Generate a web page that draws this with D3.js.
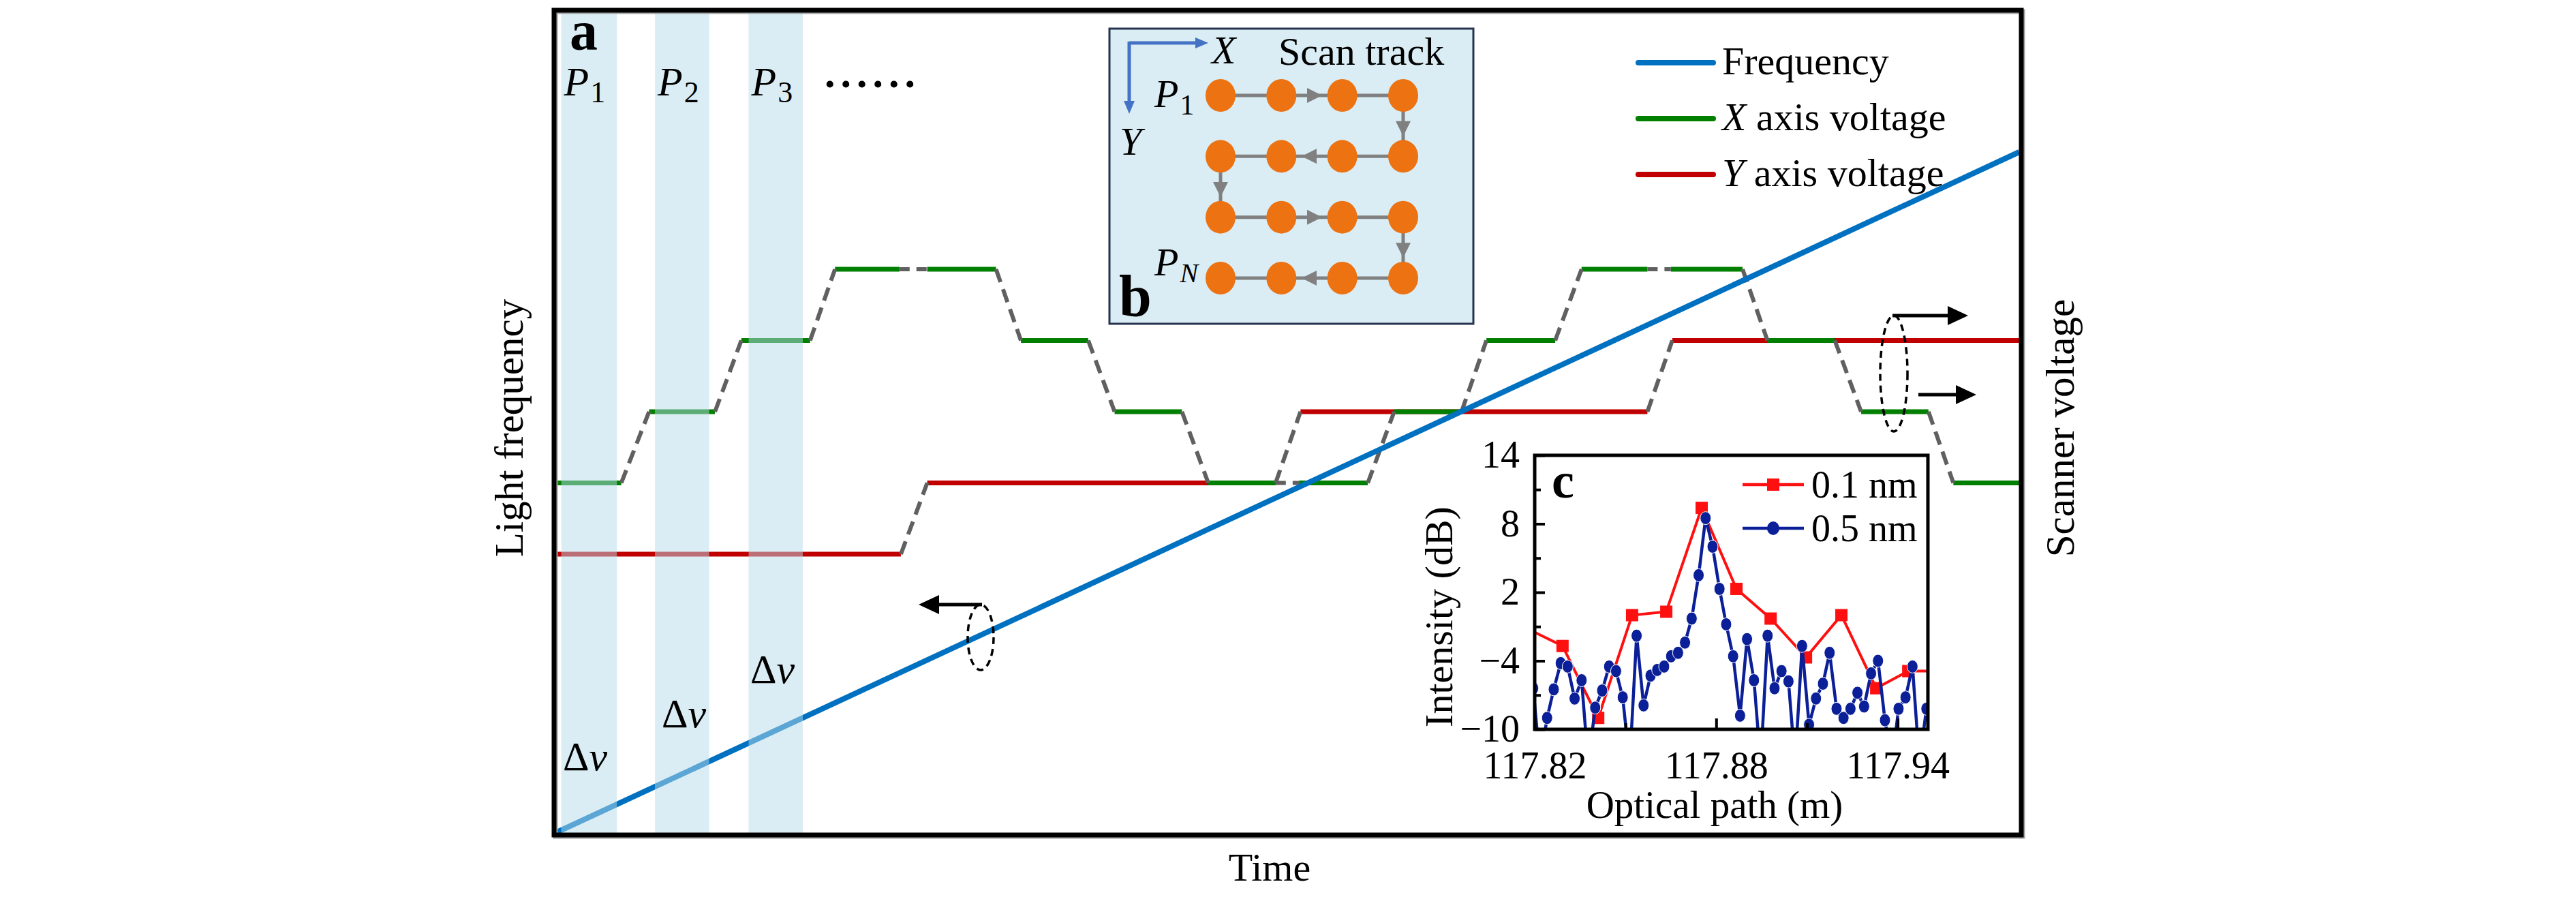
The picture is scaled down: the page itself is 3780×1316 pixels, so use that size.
<!DOCTYPE html>
<html><head><meta charset="utf-8">
<script src="https://cdn.jsdelivr.net/npm/d3@7"></script>
<style>
body{margin:0;background:#fff}
svg{display:block;font-family:"Liberation Serif","Times New Roman",serif}
text{font-family:"Liberation Serif","Times New Roman",serif;fill:#000}
</style>
</head><body>
<svg id="chart" width="3780" height="1316"></svg>
<script>
// ---------------- data ----------------
// main panel a: time axis (arbitrary units 0..100)
const timeDomain = [0, 100];
// light frequency: linear sweep
const freqTime = [0, 100];
const freqValue = [0, 1];
// X axis voltage (levels 1..4): vertices; even segments = dwell, odd = transition
const greenT = [0, 4.5, 6.4, 10.9, 12.7, 17.4, 19.1, 23.5, 25.4, 30.1, 31.8, 36.4, 38.2, 42.8, 44.6, 49.2,
                50.8, 55.5, 57.3, 61.9, 63.6, 68.3, 70.1, 74.6, 76.2, 81.1, 82.8, 87.4, 89.2, 93.8, 95.5, 100];
const greenV = [1, 1, 2, 2, 3, 3, 4, 4, 4, 4, 3, 3, 2, 2, 1, 1, 1, 1, 2, 2, 3, 3, 4, 4, 4, 4, 3, 3, 2, 2, 1, 1];
// Y axis voltage (levels 0..3)
const redT = [0, 23.6, 25.4, 49.2, 50.9, 74.6, 76.3, 100];
const redV = [0, 0, 1, 1, 2, 2, 3, 3];
// highlighted dwell windows P1..P3
const stripeStart = [0.4, 6.8, 13.2];
const stripeEnd = [4.2, 10.5, 16.9];
const stripeLabels = ["1", "2", "3"];

// panel b: scan grid
const scanCols = [1, 2, 3, 4];
const scanRows = [1, 2, 3, 4];

// panel c: optical path (m) vs intensity (dB)
const pathTicks = [117.82, 117.88, 117.94];
const pathMinorTicks = [117.85, 117.91];
const intensityTicks = [14, 8, 2, -4, -10];
const intensityMinorTicks = [11, 5, -1, -7];
const path01 = [117.8177, 117.8292, 117.8410, 117.8522, 117.8635, 117.8752, 117.8867, 117.8980, 117.9097, 117.9214, 117.9329, 117.9435, 117.9550];
const int01 = [-1.2, -2.7, -9.0, 0.0, 0.3, 9.4, 2.3, -0.3, -3.7, 0.0, -6.4, -4.9, -4.9];
const path05 = [117.8195, 117.8218, 117.8241, 117.8263, 117.8286, 117.8309, 117.8332, 117.8355, 117.8377, 117.8400,
  117.8423, 117.8446, 117.8469, 117.8491, 117.8514, 117.8537, 117.8560, 117.8583, 117.8605, 117.8628,
  117.8651, 117.8674, 117.8697, 117.8719, 117.8742, 117.8765, 117.8788, 117.8811, 117.8833, 117.8856,
  117.8879, 117.8902, 117.8925, 117.8947, 117.8970, 117.8993, 117.9016, 117.9039, 117.9061, 117.9084,
  117.9107, 117.9130, 117.9153, 117.9175, 117.9198, 117.9221, 117.9244, 117.9267, 117.9289, 117.9312,
  117.9335, 117.9358, 117.9381, 117.9403, 117.9426, 117.9449, 117.9472, 117.9495];
const int05 = [-6.4, -13, -9.0, -6.5, -4.2, -4.5, -7.3, -5.7, -13, -8.1,
  -6.6, -4.5, -4.9, -7.2, -13, -1.8, -7.9, -5.3, -4.8, -4.5,
  -3.6, -3.3, -2.4, -0.3, 3.5, 8.5, 6.0, 2.3, -0.8, -3.6,
  -8.8, -2.1, -5.7, -13, -1.8, -6.4, -4.9, -5.8, -13, -2.7,
  -9.6, -7.3, -6.0, -3.3, -8.2, -9.0, -8.2, -6.8, -8.0, -5.1,
  -4.0, -9.2, -13, -8.2, -7.2, -4.5, -13, -8.2];

// ---------------- styles ----------------
const C = {green:"#007f00", red:"#c00000", blue:"#0070c0", gray:"#606060",
           stripe:"#b5dbe9", orange:"#ec7212", navy:"#0b1f98", cred:"#ff1010"};
const SERIF = '"Liberation Serif","Times New Roman",serif';

const svg = d3.select("#chart");
const F = {l:813, r:2966, t:15, b:1225};

const x = d3.scaleLinear().domain(timeDomain).range([815, 2963]);
const yV = d3.scaleLinear().domain([0, 4]).range([813, 395]);
const yF = d3.scaleLinear().domain([0, 1]).range([1222, 223]);

svg.append("defs").append("clipPath").attr("id","mainClip")
  .append("rect").attr("x",F.l).attr("y",F.t).attr("width",F.r-F.l).attr("height",F.b-F.t);

const main = svg.append("g").attr("clip-path","url(#mainClip)");

function drawSteps(T, V) {
  const solid = [], dashed = [];
  for (let k = 0; k < T.length - 1; k++) {
    const seg = [[T[k], V[k]], [T[k+1], V[k+1]]];
    (k % 2 === 0 ? solid : dashed).push(seg);
  }
  return {solid, dashed};
}
const lineV = d3.line().x(d => x(d[0])).y(d => yV(d[1]));
const red = drawSteps(redT, redV);
const green = drawSteps(greenT, greenV);

main.selectAll(".rs").data(red.solid).join("path").attr("d", lineV)
  .attr("stroke", C.red).attr("stroke-width", 7).attr("fill","none");
main.selectAll(".gs").data(green.solid).join("path").attr("d", lineV)
  .attr("stroke", C.green).attr("stroke-width", 7).attr("fill","none");
const ramps = red.dashed.concat(green.dashed);
main.selectAll(".rp").data(ramps).join("path").attr("d", lineV)
  .attr("stroke", C.gray).attr("stroke-width", 6).attr("fill","none")
  .attr("stroke-dasharray", d => d[0][1] === d[1][1] ? "15,10" : "20,11");

const lineF = d3.line().x(d => x(d[0])).y(d => yF(d[1]));
main.append("path").datum(freqTime.map((t,i) => [t, freqValue[i]])).attr("d", lineF)
  .attr("stroke", C.blue).attr("stroke-width", 8).attr("fill","none");

// stripes overlay
main.selectAll(".st").data(stripeStart).join("rect")
  .attr("x", (d,i) => x(d)).attr("width", (d,i) => x(stripeEnd[i]) - x(d))
  .attr("y", F.t + 4).attr("height", F.b - F.t - 7)
  .attr("fill", C.stripe).attr("opacity", 0.5);

// frame
svg.append("rect").attr("x",F.l+2).attr("y",F.t+2).attr("width",F.r-F.l).attr("height",F.b-F.t)
  .attr("fill","none").attr("stroke","#a0a0a0").attr("stroke-width",7);
svg.append("rect").attr("x",F.l).attr("y",F.t).attr("width",F.r-F.l).attr("height",F.b-F.t)
  .attr("fill","none").attr("stroke","#000").attr("stroke-width",7);

// labels panel a
svg.append("text").attr("x",836).attr("y",73).attr("font-size",82).attr("font-weight","bold").text("a");
stripeStart.forEach((s,i) => {
  const t = svg.append("text").attr("x", x(s) + 4).attr("y", 140).attr("font-size", 60);
  t.append("tspan").attr("font-style","italic").text("P");
  t.append("tspan").attr("font-size", 44).attr("dy", 10).attr("dx", 2).text(stripeLabels[i]);
});
svg.append("text").attr("x",1210).attr("y",128).attr("font-size",62).attr("font-weight","bold")
  .attr("letter-spacing", 8).text("......");
const dnu = [[826,1130],[971,1067],[1101,1002]];
dnu.forEach(p => {
  const t = svg.append("text").attr("x",p[0]).attr("y",p[1]).attr("font-size",60);
  t.append("tspan").text("Δ");
  t.append("tspan").attr("font-style","italic").text("ν");
});

// ellipse + arrows
function arrow(x1, y1, x2, y2, color, w, len, half) {
  const ang = Math.atan2(y2 - y1, x2 - x1);
  const bx = x2 - len * Math.cos(ang), by = y2 - len * Math.sin(ang);
  svg.append("line").attr("x1",x1).attr("y1",y1).attr("x2",bx).attr("y2",by)
    .attr("stroke",color).attr("stroke-width",w);
  const px = -Math.sin(ang) * half, py = Math.cos(ang) * half;
  svg.append("path").attr("d",`M${x2},${y2}L${bx+px},${by+py}L${bx-px},${by-py}Z`).attr("fill",color);
}
svg.append("ellipse").attr("cx",1439).attr("cy",935).attr("rx",19).attr("ry",48)
  .attr("fill","none").attr("stroke","#000").attr("stroke-width",3.5).attr("stroke-dasharray","10,7");
arrow(1441, 887, 1348, 887, "#000", 5, 30, 14);
svg.append("ellipse").attr("cx",2779).attr("cy",548).attr("rx",20).attr("ry",85)
  .attr("fill","none").attr("stroke","#000").attr("stroke-width",3.5).attr("stroke-dasharray","10,7");
arrow(2777, 463, 2888, 463, "#000", 5, 30, 14);
arrow(2815, 579, 2900, 579, "#000", 5, 30, 14);

// legend
const legendItems = [
  {color: C.blue, ital: "", rest: "Frequency"},
  {color: C.green, ital: "X", rest: " axis voltage"},
  {color: C.red, ital: "Y", rest: " axis voltage"}
];
legendItems.forEach((d,i) => {
  const yy = 92 + i * 82;
  svg.append("line").attr("x1",2404).attr("x2",2514).attr("y1",yy).attr("y2",yy)
    .attr("stroke",d.color).attr("stroke-width",8).attr("stroke-linecap","round");
  const t = svg.append("text").attr("x",2527).attr("y",yy + 17).attr("font-size",58);
  if (d.ital) t.append("tspan").attr("font-style","italic").text(d.ital);
  t.append("tspan").text(d.rest);
});

// axis titles
svg.append("text").attr("transform","translate(767,628) rotate(-90)").attr("text-anchor","middle")
  .attr("font-size",59).text("Light frequency");
svg.append("text").attr("transform","translate(3043,628) rotate(-90)").attr("text-anchor","middle")
  .attr("font-size",59).text("Scanner voltage");
svg.append("text").attr("x",1863).attr("y",1292).attr("text-anchor","middle")
  .attr("font-size",58).text("Time");

// ---------------- panel b ----------------
const gb = svg.append("g");
gb.append("rect").attr("x",1628).attr("y",42).attr("width",534).attr("height",433)
  .attr("fill","#daedf4").attr("stroke","#26324e").attr("stroke-width",3);
const bx = d3.scaleLinear().domain([1,4]).range([1791, 2059]);
const by = d3.scaleLinear().domain([1,4]).range([140, 408]);
// serpentine order
const order = [];
scanRows.forEach((r,ri) => {
  const cols = ri % 2 === 0 ? scanCols : scanCols.slice().reverse();
  cols.forEach(c => order.push([c, r]));
});
gb.append("path").attr("d", d3.line().x(d => bx(d[0])).y(d => by(d[1]))(order))
  .attr("fill","none").attr("stroke","#808080").attr("stroke-width",5);
function tri(g, cx, cy, ang) {
  const L = 22, Hh = 11;
  const ca = Math.cos(ang), sa = Math.sin(ang);
  const tip = [cx + ca*L/2, cy + sa*L/2], base = [cx - ca*L/2, cy - sa*L/2];
  g.append("path").attr("d",`M${tip[0]},${tip[1]}L${base[0]-sa*Hh},${base[1]+ca*Hh}L${base[0]+sa*Hh},${base[1]-ca*Hh}Z`)
    .attr("fill","#808080");
}
for (let k = 0; k < order.length - 1; k++) {
  const a = order[k], b = order[k+1];
  const show = (a[1] === b[1]) ? (Math.min(a[0],b[0]) === 2) : true;
  if (!show) continue;
  const x1 = bx(a[0]), y1 = by(a[1]), x2 = bx(b[0]), y2 = by(b[1]);
  const ang = Math.atan2(y2-y1, x2-x1);
  tri(gb, (x1+x2)/2 + Math.cos(ang)*4, (y1+y2)/2 + Math.sin(ang)*4, ang);
}
gb.selectAll(".dot").data(order).join("ellipse")
  .attr("cx", d => bx(d[0])).attr("cy", d => by(d[1])).attr("rx",22).attr("ry",24)
  .attr("fill", C.orange);
const axc = "#4472c4";
gb.append("line").attr("x1",1657).attr("y1",63).attr("x2",1756).attr("y2",63).attr("stroke",axc).attr("stroke-width",5);
gb.append("path").attr("d","M1773,63L1754,55L1754,71Z").attr("fill",axc);
gb.append("line").attr("x1",1657).attr("y1",61).attr("x2",1657).attr("y2",150).attr("stroke",axc).attr("stroke-width",5);
gb.append("path").attr("d","M1657,167L1649,148L1665,148Z").attr("fill",axc);
gb.append("text").attr("x",1778).attr("y",93).attr("font-size",58).attr("font-style","italic").text("X");
gb.append("text").attr("x",1876).attr("y",95).attr("font-size",58).text("Scan track");
gb.append("text").attr("x",1643).attr("y",227).attr("font-size",58).attr("font-style","italic").text("Y");
const p1 = gb.append("text").attr("x",1694).attr("y",157).attr("font-size",58);
p1.append("tspan").attr("font-style","italic").text("P");
p1.append("tspan").attr("font-size",42).attr("dy",11).attr("dx",2).text("1");
const pn = gb.append("text").attr("x",1694).attr("y",404).attr("font-size",58);
pn.append("tspan").attr("font-style","italic").text("P");
pn.append("tspan").attr("font-size",40).attr("font-style","italic").attr("dy",10).attr("dx",2).text("N");
gb.append("text").attr("x",1642).attr("y",463).attr("font-size",86).attr("font-weight","bold").text("b");

// ---------------- panel c ----------------
const IC = {l:2252, r:2829, t:668, b:1070};
const cx = d3.scaleLinear().domain([117.82, 117.95]).range([IC.l, IC.r]);
const cy = d3.scaleLinear().domain([-10, 14]).range([IC.b, IC.t]);
const gc = svg.append("g");
gc.append("rect").attr("x",IC.l).attr("y",IC.t).attr("width",IC.r-IC.l).attr("height",IC.b-IC.t).attr("fill","#fff");
svg.select("defs").append("clipPath").attr("id","cClip")
  .append("rect").attr("x",IC.l).attr("y",IC.t).attr("width",IC.r-IC.l).attr("height",IC.b-IC.t);
const plot = gc.append("g").attr("clip-path","url(#cClip)");
const lc = d3.line().x(d => cx(d[0])).y(d => cy(d[1]));
const s01 = path01.map((p,i) => [p, int01[i]]);
const s05 = path05.map((p,i) => [p, int05[i]]);
plot.append("path").datum(s01).attr("d", lc).attr("fill","none").attr("stroke",C.cred).attr("stroke-width",4);
plot.selectAll(".sq").data(s01).join("rect")
  .attr("x", d => cx(d[0]) - 9).attr("y", d => cy(d[1]) - 9).attr("width",18).attr("height",18).attr("fill",C.cred);
plot.append("path").datum(s05).attr("d", lc).attr("fill","none").attr("stroke",C.navy).attr("stroke-width",4.5);
plot.selectAll(".ci").data(s05).join("ellipse")
  .attr("cx", d => cx(d[0])).attr("cy", d => cy(d[1])).attr("rx",8).attr("ry",9.5)
  .attr("fill",C.navy).attr("stroke","#fff").attr("stroke-width",1);

function styleAxis(g) {
  g.attr("font-family", null);
  g.select(".domain").remove();
  g.selectAll(".tick line").attr("stroke","#000").attr("stroke-width",4);
  g.selectAll(".tick text").style("font-family", SERIF).attr("font-size",56).attr("fill","#000");
}
gc.append("g").attr("transform",`translate(${IC.l},0)`)
  .call(d3.axisLeft(cy).tickValues(intensityTicks).tickSize(-15).tickPadding(22)).call(styleAxis);
gc.append("g").attr("transform",`translate(${IC.l},0)`)
  .call(d3.axisLeft(cy).tickValues(intensityMinorTicks).tickSize(-9).tickFormat("")).call(styleAxis);
gc.append("g").attr("transform",`translate(0,${IC.b})`)
  .call(d3.axisBottom(cx).tickValues(pathTicks).tickSize(-16).tickPadding(32).tickFormat(d3.format(".2f"))).call(styleAxis);
gc.append("g").attr("transform",`translate(0,${IC.b})`)
  .call(d3.axisBottom(cx).tickValues(pathMinorTicks).tickSize(-9).tickFormat("")).call(styleAxis);
gc.append("rect").attr("x",IC.l).attr("y",IC.t).attr("width",IC.r-IC.l).attr("height",IC.b-IC.t)
  .attr("fill","none").attr("stroke","#000").attr("stroke-width",5);

gc.append("text").attr("x",2277).attr("y",730).attr("font-size",74).attr("font-weight","bold").text("c");
const legC = [{c:C.cred, shape:"sq", label:"0.1 nm", y:711}, {c:C.navy, shape:"ci", label:"0.5 nm", y:775}];
legC.forEach(d => {
  gc.append("line").attr("x1",2557).attr("x2",2647).attr("y1",d.y).attr("y2",d.y).attr("stroke",d.c).attr("stroke-width",4.5);
  if (d.shape === "sq") gc.append("rect").attr("x",2593).attr("y",d.y-9).attr("width",18).attr("height",18).attr("fill",d.c);
  else gc.append("ellipse").attr("cx",2602).attr("cy",d.y).attr("rx",9).attr("ry",10).attr("fill",d.c);
  gc.append("text").attr("x",2658).attr("y",d.y+19).attr("font-size",56).text(d.label);
});
gc.append("text").attr("transform","translate(2131,905) rotate(-90)").attr("text-anchor","middle")
  .attr("font-size",58).text("Intensity (dB)");
gc.append("text").attr("x",2516).attr("y",1200).attr("text-anchor","middle")
  .attr("font-size",57).text("Optical path (m)");
</script>
</body></html>
